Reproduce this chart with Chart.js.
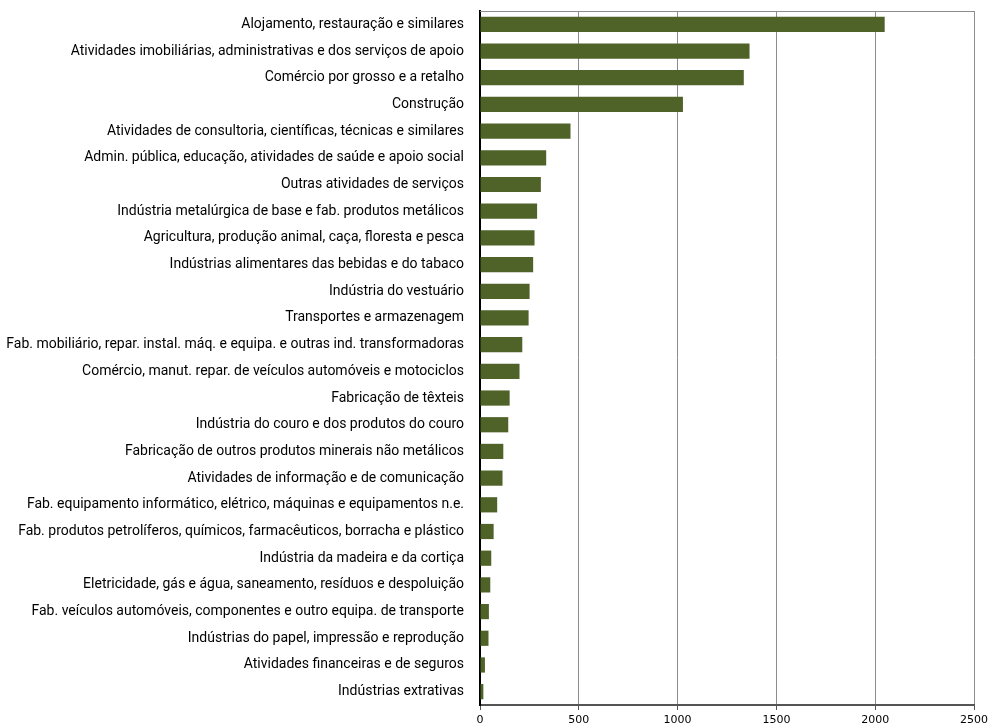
<!DOCTYPE html>
<html>
<head>
<meta charset="utf-8">
<script src="https://cdn.jsdelivr.net/npm/chart.js@4.4.1/dist/chart.umd.min.js"></script>
<style>
  html, body { margin: 0; padding: 0; background: #fff; }
  #wrap { width: 989px; height: 728px; position: relative; }
</style>
</head>
<body>
<div id="wrap"><canvas id="chart"></canvas></div>
<script>
// Categorias (de cima para baixo)
const categories = [
    'Alojamento, restauração e similares',
    'Atividades imobiliárias, administrativas e dos serviços de apoio',
    'Comércio por grosso e a retalho',
    'Construção',
    'Atividades de consultoria, científicas, técnicas e similares',
    'Admin. pública, educação, atividades de saúde e apoio social',
    'Outras atividades de serviços',
    'Indústria metalúrgica de base e fab. produtos metálicos',
    'Agricultura, produção animal, caça, floresta e pesca',
    'Indústrias alimentares das bebidas e do tabaco',
    'Indústria do vestuário',
    'Transportes e armazenagem',
    'Fab. mobiliário, repar. instal. máq. e equipa. e outras ind. transformadoras',
    'Comércio, manut. repar. de veículos automóveis e motociclos',
    'Fabricação de têxteis',
    'Indústria do couro e dos produtos do couro',
    'Fabricação de outros produtos minerais não metálicos',
    'Atividades de informação e de comunicação',
    'Fab. equipamento informático, elétrico, máquinas e equipamentos n.e.',
    'Fab. produtos petrolíferos, químicos, farmacêuticos, borracha e plástico',
    'Indústria da madeira e da cortiça',
    'Eletricidade, gás e água, saneamento, resíduos e despoluição',
    'Fab. veículos automóveis, componentes e outro equipa. de transporte',
    'Indústrias do papel, impressão e reprodução',
    'Atividades financeiras e de seguros',
    'Indústrias extrativas'
];

const values = [2048, 1364, 1335, 1027, 458, 335, 308, 289, 276, 269, 251, 246,
                214, 200, 150, 143, 118, 114, 87, 69, 57, 52, 45, 43, 25, 17];

const xMin = 0, xMax = 2500, xStep = 500;

// Moldura superior da área do gráfico
const frame = {
    id: 'frame',
    afterDraw(chart) {
        const {ctx, chartArea: a} = chart;
        ctx.save();
        ctx.strokeStyle = '#8c8c8c';
        ctx.lineWidth = 1;
        ctx.beginPath();
        ctx.moveTo(a.left, a.top + 0.5);
        ctx.lineTo(a.right, a.top + 0.5);
        ctx.stroke();
        ctx.restore();
    }
};

new Chart(document.getElementById('chart'), {
    type: 'bar',
    data: {
        labels: categories,
        datasets: [{
            data: values,
            backgroundColor: '#4f6228',
            borderWidth: 0,
            barPercentage: 0.57,
            categoryPercentage: 1
        }]
    },
    plugins: [frame],
    options: {
        indexAxis: 'y',
        responsive: true,
        maintainAspectRatio: false,
        animation: false,
        layout: { padding: { top: 11, right: 15, left: 0, bottom: 0 } },
        plugins: { legend: { display: false }, tooltip: { enabled: false } },
        scales: {
            x: {
                min: xMin,
                max: xMax,
                ticks: {
                    stepSize: xStep,
                    color: '#000',
                    padding: 4,
                    maxRotation: 0,
                    font: { family: 'DejaVu Sans', size: 11 },
                    callback: v => String(v)
                },
                grid: { color: '#8c8c8c', lineWidth: 1, tickLength: 5, tickColor: '#555' },
                border: { color: '#555', width: 2 },
                afterFit(scale) {
                    scale.height = 23;
                    scale.paddingLeft = 0;
                    scale.paddingRight = 0;
                }
            },
            y: {
                ticks: {
                    color: '#000',
                    padding: 8,
                    autoSkip: false,
                    font: { family: 'Roboto', size: 14 }
                },
                grid: { display: false },
                border: { color: '#000', width: 2 },
                afterFit(scale) {
                    scale.width = 480;
                    scale.paddingTop = 0;
                    scale.paddingBottom = 0;
                }
            }
        }
    }
});
</script>
</body>
</html>
